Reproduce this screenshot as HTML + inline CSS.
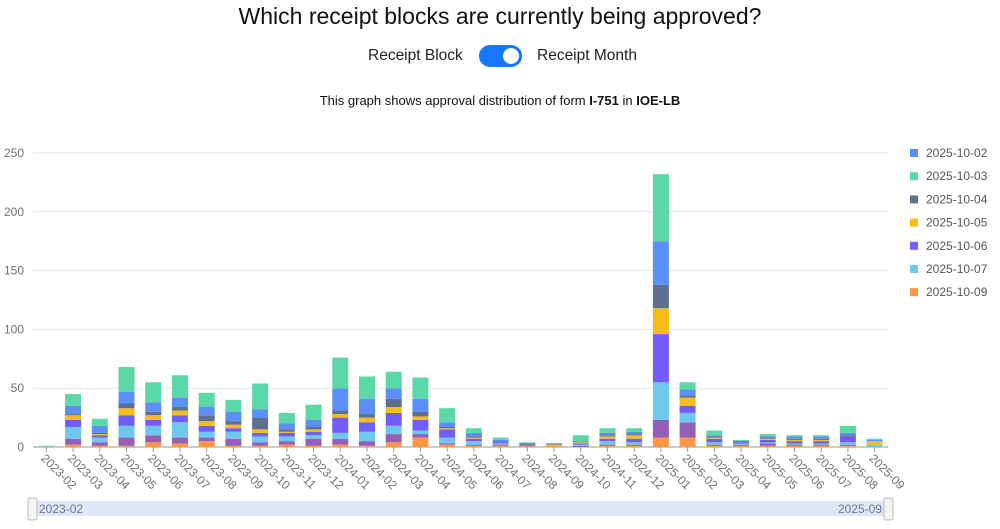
<!DOCTYPE html>
<html><head><meta charset="utf-8"><style>
body{margin:0;width:1000px;height:529px;background:#fff;font-family:"Liberation Sans",sans-serif;overflow:hidden;position:relative}
.t{position:absolute;left:0;width:1000px;text-align:center;color:#111}
</style></head><body>
<div class="t" style="top:3px;font-size:23px">Which receipt blocks are currently being approved?</div>
<div style="position:absolute;left:368px;top:47px;font-size:15.5px;color:#222">Receipt Block</div>
<div style="position:absolute;left:479px;top:45px;width:43px;height:22px;border-radius:11px;background:#1677ff"><div style="position:absolute;right:3px;top:3px;width:16px;height:16px;border-radius:8px;background:#fff"></div></div>
<div style="position:absolute;left:537px;top:47px;font-size:15.5px;color:#222">Receipt Month</div>
<div class="t" style="top:93px;font-size:13px">This graph shows approval distribution of form <b>I-751</b> in <b>IOE-LB</b></div>
<svg id="s" width="1000" height="529" style="position:absolute;left:0;top:0"></svg>
<script>
const C=["#FF9845","#945FB9","#6DC8EC","#6F5EF9","#F6BD16","#5D7092","#5B8FF9","#5AD8A6"];
const D=[[0,0,0,0,0,0,0,1],[2,5,10,6,4,1,7,10],[1,3,4,2,1,1,6,6],[1,7,10,9,6,4,10,21],[4,6,8,5,4,3,8,17],[3,5,13,6,4,3,8,19],[5,3,5,5,4,5,7,12],[1,6,6,3,3,3,8,10],[1,3,5,3,3,10,7,22],[2,3,4,3,1,2,5,9],[1,6,3,3,2,2,6,13],[2,5,5,13,3,3,19,26],[1,4,8,8,4,3,13,19],[4,7,7,11,5,7,9,14],[8,3,3,9,3,4,11,18],[2,1,5,7,1,1,4,12],[1,1,3,2,1,1,3,4],[1,1,1,1,0,1,1,2],[1,1,0,0,0,1,0,1],[1,0,0,0,1,1,0,0],[0,1,1,1,1,0,1,5],[1,1,3,2,2,1,2,4],[1,1,2,3,3,1,2,3],[8,15,32,41,22,20,37,57],[8,13,8,6,7,2,5,6],[1,1,2,3,1,1,1,4],[1,1,1,1,0,1,0,1],[1,2,1,2,1,1,1,2],[1,1,1,2,1,1,2,1],[1,1,1,2,1,1,2,1],[1,1,2,5,0,1,2,6],[0,0,2,0,3,0,1,1]];
let h="";const y0=447,k=294/250,x0=33,x1=888,bw=(x1-x0)/32;
for(let v=0;v<=250;v+=50){const y=y0-v*k;h+=`<line x1="${x0}" x2="${x1}" y1="${y}" y2="${y}" stroke="${v?'#e6e6e6':'#999'}"/>`;h+=`<text x="24" y="${y+4}" text-anchor="end" font-size="12" fill="#6e7079">${v}</text>`;}
for(let i=0;i<32;i++){const cx=x0+bw*(i+.5);let y=y0;D[i].forEach((v,j)=>{if(!v)return;const hh=v*k;y-=hh;h+=`<rect x="${cx-8}" y="${y}" width="16" height="${hh}" fill="${C[j]}"/>`;});
const yr=2023+Math.floor((i+1)/12),m=(i+1)%12+1;const lab=yr+"-"+String(m).padStart(2,"0");
h+=`<line x1="${cx}" x2="${cx}" y1="${y0}" y2="${y0+5}" stroke="#999"/>`;
h+=`<text transform="translate(${cx-6},${y0+12}) rotate(45)" font-size="12" fill="#6e7079">${lab}</text>`;}
const L=["2025-10-02","2025-10-03","2025-10-04","2025-10-05","2025-10-06","2025-10-07","2025-10-09"],LC=["#5B8FF9","#5AD8A6","#5D7092","#F6BD16","#6F5EF9","#6DC8EC","#FF9845"];
L.forEach((t,i)=>{const y=153+i*23.2;h+=`<rect x="910" y="${y-4}" width="8" height="8" fill="${LC[i]}"/><text x="926" y="${y+4}" font-size="12" fill="#555">${t}</text>`;});
h+=`<rect x="33" y="501" width="855" height="15" fill="#dfe6f5"/>`;
h+=`<rect x="28" y="498" width="9" height="22" rx="2" fill="#f4f4f4" stroke="#bbb"/><rect x="884" y="498" width="9" height="22" rx="2" fill="#f4f4f4" stroke="#bbb"/>`;
h+=`<text x="39" y="513" font-size="12" fill="#6e7799">2023-02</text><text x="882" y="513" text-anchor="end" font-size="12" fill="#6e7799">2025-09</text>`;
document.getElementById("s").innerHTML=h;
</script>
</body></html>
